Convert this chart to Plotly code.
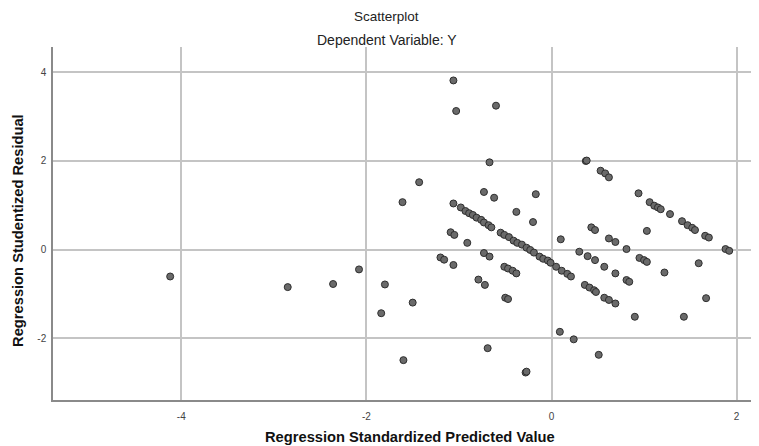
import plotly.graph_objects as go

# Regression Standardized Predicted Value
pred = [
    -1.06, -1.03, -0.60, -0.67, -1.43, -1.61, -0.73, -0.62, -0.17, -1.06,
    -0.38, -0.20,
    -0.98, -0.93, -0.89, -0.85, -0.81, -0.76, -0.73, -0.68, -0.65,
    -0.55, -0.51, -0.46, -0.41, -0.37, -0.32, -0.27, -0.23, -0.19, -0.13,
    -0.09, -0.04, -0.01, 0.05, 0.11, 0.17, 0.21,
    -1.09, -1.05, -0.91, 0.10, 0.30, -1.20, -1.16, -1.06, -0.73, -0.67,
    -0.51, -0.47, -0.42, -0.38, -0.79, -0.72, -0.50, -0.47, -1.80, -1.50,
    -1.84, -0.69, -1.60, -0.28, -0.27, 0.09, 0.24, 0.51,
    -4.12, -2.85, -2.36, -2.08,
    0.37, 0.38, 0.53, 0.58, 0.62, 0.94, 1.06, 1.11, 1.15, 1.18, 1.28,
    1.41, 1.47, 1.52, 1.55, 1.66, 1.70, 1.88, 1.92, 1.03, 0.43, 0.47,
    0.62, 0.69, 0.81, 0.95, 1.00, 1.03, 1.59, 0.39, 0.47, 0.57, 0.69,
    0.81, 0.84, 1.22, 0.36, 0.41, 0.46, 0.48, 0.57, 0.62, 0.69, 1.67,
    0.90, 1.43,
]

# Regression Studentized Residual
resid = [
    3.82, 3.13, 3.25, 1.97, 1.52, 1.07, 1.30, 1.17, 1.25, 1.04,
    0.85, 0.62,
    0.95, 0.87, 0.82, 0.78, 0.72, 0.67, 0.61, 0.55, 0.50,
    0.38, 0.33, 0.28, 0.20, 0.15, 0.11, 0.04, -0.01, -0.07, -0.16,
    -0.21, -0.25, -0.30, -0.39, -0.48, -0.55, -0.61,
    0.39, 0.33, 0.15, 0.23, -0.05, -0.18, -0.23, -0.35, -0.08, -0.16,
    -0.39, -0.43, -0.48, -0.54, -0.68, -0.80, -1.09, -1.12, -0.79, -1.20,
    -1.44, -2.23, -2.50, -2.78, -2.76, -1.86, -2.03, -2.38,
    -0.61, -0.85, -0.78, -0.45,
    2.00, 2.01, 1.78, 1.72, 1.63, 1.27, 1.07, 0.99, 0.95, 0.91, 0.80,
    0.64, 0.55, 0.49, 0.44, 0.31, 0.27, 0.01, -0.03, 0.42, 0.50, 0.44,
    0.25, 0.17, 0.01, -0.19, -0.24, -0.28, -0.31, -0.15, -0.24, -0.39, -0.54,
    -0.69, -0.73, -0.52, -0.80, -0.86, -0.92, -0.96, -1.09, -1.14, -1.22, -1.10,
    -1.52, -1.52,
]

x_ticks = [-4, -2, 0, 2]
x_tick_text = ["-4", "-2", "0", "2"]
y_ticks = [-2, 0, 2, 4]
y_tick_text = ["-2", "0", "2", "4"]

fig = go.Figure()
fig.add_trace(go.Scatter(
    x=pred, y=resid, mode="markers",
    marker=dict(size=7, color="#6a6a6a", line=dict(width=1, color="#2e2e2e")),
    showlegend=False, hoverinfo="x+y",
))

grid_col = "#c4c4c4"
axis_col = "#8a8a8a"
font_fam = "Liberation Sans, Arial, sans-serif"

fig.update_xaxes(
    range=[-5.386, 2.22], tickvals=x_ticks, ticktext=x_tick_text,
    showgrid=True, gridcolor=grid_col, gridwidth=1.5, zeroline=False,
    showline=True, linecolor=axis_col, linewidth=1.5, ticks="",
    ticklabelstandoff=6, automargin=False,
    tickfont=dict(size=10, color="#444444", family=font_fam),
)
fig.update_yaxes(
    range=[-3.401, 4.576], tickvals=y_ticks, ticktext=y_tick_text,
    showgrid=True, gridcolor=grid_col, gridwidth=1.5, zeroline=False,
    showline=True, linecolor=axis_col, linewidth=1.5, ticks="",
    ticklabelstandoff=3, automargin=False,
    tickfont=dict(size=10, color="#444444", family=font_fam),
)

annotations = [
    dict(text="Scatterplot", x=0.474, y=1.085, xref="paper", yref="paper",
         xanchor="center", yanchor="middle", showarrow=False, borderpad=0,
         font=dict(size=13.5, color="#222222", family=font_fam)),
    dict(text="Dependent Variable: Y", x=0.474, y=1.02, xref="paper", yref="paper",
         xanchor="center", yanchor="middle", showarrow=False, borderpad=0,
         font=dict(size=14, color="#222222", family=font_fam)),
    dict(text="<b>Regression Standardized Predicted Value</b>", x=0.507, y=-0.105,
         xref="paper", yref="paper", xanchor="center", yanchor="middle",
         showarrow=False, font=dict(size=14.7, color="#111111", family=font_fam)),
    dict(text="<b>Regression Studentized Residual</b>", x=-0.0497, y=0.479,
         xref="paper", yref="paper", xanchor="center", yanchor="middle",
         textangle=-90, showarrow=False,
         font=dict(size=14.7, color="#111111", family=font_fam)),
]

# the page body has an 8px default margin, so the figure is 8px smaller
fig.update_layout(
    width=751, height=438,
    margin=dict(l=45, r=2, t=39, b=46),
    paper_bgcolor="white", plot_bgcolor="white",
    annotations=annotations,
    font=dict(family=font_fam),
)

fig.write_html("out.html")
